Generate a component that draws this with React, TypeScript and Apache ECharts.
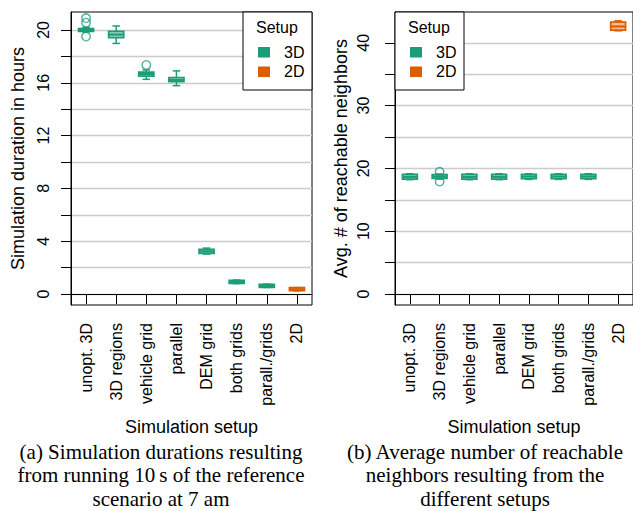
import React, { useEffect, useRef } from "react";
import * as echarts from "echarts";

const categories = ["unopt. 3D", "3D regions", "vehicle grid", "parallel", "DEM grid", "both grids", "parall./grids", "2D"];
const setupOfCategory = ["3D", "3D", "3D", "3D", "3D", "3D", "3D", "2D"];
const setups = ["3D", "2D"];
const setupColors: Record<string, string> = { "3D": "#1b9e77", "2D": "#d95f02" };
const setupFills: Record<string, string> = { "3D": "rgba(27,158,119,0.4)", "2D": "rgba(217,95,2,0.4)" };

// [min, Q1, median, Q3, max] per category
const durationBoxes = [
  [19.85, 19.9, 20.0, 20.1, 20.2],
  [18.98, 19.42, 19.65, 19.9, 20.3],
  [16.26, 16.5, 16.67, 16.8, 16.97],
  [15.78, 16.08, 16.2, 16.39, 16.9],
  [3.03, 3.08, 3.23, 3.38, 3.48],
  [0.79, 0.81, 0.92, 1.04, 1.06],
  [0.5, 0.51, 0.62, 0.73, 0.75],
  [0.24, 0.25, 0.36, 0.48, 0.49],
];
// [category index, value]
const durationOutliers = [[0, 20.9], [0, 20.55], [0, 19.5], [2, 17.35]];

const neighborBoxes = [
  [18.2, 18.3, 18.65, 19.05, 19.15],
  [18.3, 18.4, 18.7, 19.0, 19.1],
  [18.2, 18.3, 18.65, 19.05, 19.15],
  [18.2, 18.3, 18.65, 19.05, 19.15],
  [18.25, 18.35, 18.7, 19.05, 19.15],
  [18.25, 18.35, 18.7, 19.05, 19.15],
  [18.25, 18.35, 18.7, 19.05, 19.15],
  [41.9, 42.0, 42.6, 43.3, 43.5],
];
const neighborOutliers = [[1, 19.45], [1, 17.9]];

const durationTicks = [0, 2, 4, 6, 8, 10, 12, 14, 16, 18, 20];
const durationLabels = [0, 4, 8, 12, 16, 20];
const neighborTicks = [0, 5, 10, 15, 20, 25, 30, 35, 40];
const neighborLabels = [0, 10, 20, 30, 40];

const captionA = "(a) Simulation durations resulting\nfrom running 10\u2009s of the reference\nscenario at 7 am";
const captionB = "(b) Average number of reachable\nneighbors resulting from the\ndifferent setups";

const SANS = "Liberation Sans";
const SERIF = "Liberation Serif";
const FS = 16;
const FS_TITLE = 18;

function renderBox(params: any, api: any) {
  const idx = api.value(0);
  const lo = api.coord([idx, api.value(1)]);
  const q1 = api.coord([idx, api.value(2)]);
  const med = api.coord([idx, api.value(3)]);
  const q3 = api.coord([idx, api.value(4)]);
  const hi = api.coord([idx, api.value(5)]);
  const setup = setupOfCategory[idx];
  const c = setupColors[setup];
  const band = api.size([1, 0])[0];
  const w = band * 0.5;
  const x = med[0];
  const ls = { stroke: c, lineWidth: 1.5 };
  return {
    type: "group",
    children: [
      { type: "line", shape: { x1: x, y1: hi[1], x2: x, y2: q3[1] }, style: ls },
      { type: "line", shape: { x1: x, y1: q1[1], x2: x, y2: lo[1] }, style: ls },
      { type: "line", shape: { x1: x - w / 4, y1: hi[1], x2: x + w / 4, y2: hi[1] }, style: ls },
      { type: "line", shape: { x1: x - w / 4, y1: lo[1], x2: x + w / 4, y2: lo[1] }, style: ls },
      {
        type: "rect",
        shape: { x: x - w / 2, y: q3[1], width: w, height: q1[1] - q3[1] },
        style: { fill: setupFills[setup], stroke: c, lineWidth: 1.7 },
      },
      { type: "line", shape: { x1: x - w / 2, y1: med[1], x2: x + w / 2, y2: med[1] }, style: { stroke: c, lineWidth: 2.2 } },
    ],
  };
}

function legendGraphic(left: number) {
  const Z = 100;
  const children: any[] = [
    { type: "rect", z: Z, shape: { x: left, y: 12, width: 69, height: 78 }, style: { fill: "#fff", stroke: "#000", lineWidth: 1 } },
    { type: "text", z: Z + 1, x: left + 13, y: 27, style: { text: "Setup", fontSize: FS, fontFamily: SANS, fill: "#000", verticalAlign: "middle", align: "left" } },
  ];
  setups.forEach((s, i) => {
    const cy = 52 + i * 19.5;
    children.push({ type: "rect", z: Z + 1, shape: { x: left + 15, y: cy - 5, width: 12, height: 10.5 }, style: { fill: setupColors[s] } });
    children.push({ type: "text", z: Z + 1, x: left + 41, y: cy, style: { text: s, fontSize: FS, fontFamily: SANS, fill: "#000", verticalAlign: "middle", align: "left" } });
  });
  return { type: "group", children, z: Z };
}

export default function App() {
  const ref = useRef<HTMLDivElement>(null);
  useEffect(() => {
    if (!ref.current) return;
    const chart = echarts.init(ref.current, undefined, { renderer: "svg" });
    const yAxisCommon = (ticks: number[], labels: number[], min: number, max: number, name: string, gridIndex: number, labelMargin: number, nameGap: number) => ({
      type: "value",
      gridIndex,
      min,
      max,
      name,
      nameLocation: "middle",
      nameGap,
      nameTextStyle: { fontSize: FS_TITLE, fontFamily: SANS, color: "#000" },
      axisLine: { show: true, lineStyle: { color: "#000", width: 1 } },
      axisTick: { show: true, length: 10, customValues: ticks, lineStyle: { color: "#000" } },
      axisLabel: { customValues: labels, rotate: 90, margin: labelMargin, fontSize: FS, fontFamily: SANS, color: "#000" },
      splitLine: { show: true, lineStyle: { color: "#cccccc", width: 1.3 } },
    });
    const xAxisCommon = (gridIndex: number) => ({
      type: "category",
      gridIndex,
      data: categories,
      name: "Simulation setup",
      nameLocation: "middle",
      nameGap: 113,
      nameTextStyle: { fontSize: FS_TITLE, fontFamily: SANS, color: "#000", verticalAlign: "top" },
      axisLine: { show: true, lineStyle: { color: "#000", width: 1 } },
      axisTick: { show: true, length: 10, alignWithLabel: true, lineStyle: { color: "#000" } },
      axisLabel: { interval: 0, rotate: 90, margin: 18, fontSize: FS, fontFamily: SANS, color: "#000" },
      splitLine: { show: false },
    });
    const toData = (boxes: number[][]) => boxes.map((b, i) => [i, ...b]);
    chart.setOption({
      animation: false,
      backgroundColor: "#fff",
      textStyle: { fontFamily: SANS },
      grid: [
        { left: 71, top: 12, width: 241, height: 293, show: true, borderColor: "#000", borderWidth: 1 },
        { left: 395, top: 12, width: 241, height: 293, show: true, borderColor: "#000", borderWidth: 1 },
      ],
      xAxis: [xAxisCommon(0), xAxisCommon(1)],
      yAxis: [
        yAxisCommon(durationTicks, durationLabels, -0.83, 21.36, "Simulation duration in hours", 0, 19.5, 44),
        yAxisCommon(neighborTicks, neighborLabels, -1.75, 44.9, "Avg. # of reachable neighbors", 1, 23.5, 45),
      ],
      series: [
        { type: "custom", xAxisIndex: 0, yAxisIndex: 0, renderItem: renderBox, encode: { x: 0, y: [1, 2, 3, 4, 5] }, data: toData(durationBoxes) },
        { type: "custom", xAxisIndex: 1, yAxisIndex: 1, renderItem: renderBox, encode: { x: 0, y: [1, 2, 3, 4, 5] }, data: toData(neighborBoxes) },
        {
          type: "scatter", xAxisIndex: 0, yAxisIndex: 0, symbol: "circle", symbolSize: 8.5, clip: false,
          itemStyle: { color: "rgba(0,0,0,0)", borderColor: setupColors["3D"], borderWidth: 1.4 },
          data: durationOutliers,
        },
        {
          type: "scatter", xAxisIndex: 1, yAxisIndex: 1, symbol: "circle", symbolSize: 8.5, clip: false,
          itemStyle: { color: "rgba(0,0,0,0)", borderColor: setupColors["3D"], borderWidth: 1.4 },
          data: neighborOutliers,
        },
      ],
      graphic: [
        legendGraphic(243),
        legendGraphic(395),
        { type: "text", x: 161, y: 440, style: { text: captionA, fontSize: 21, fontFamily: SERIF, fill: "#000", align: "center", verticalAlign: "top", lineHeight: 23.5 } },
        { type: "text", x: 485, y: 440, style: { text: captionB, fontSize: 21, fontFamily: SERIF, fill: "#000", align: "center", verticalAlign: "top", lineHeight: 23.5 } },
      ],
    });
    return () => chart.dispose();
  }, []);
  return <div ref={ref} style={{ position: "absolute", left: 0, top: 0, width: 633, height: 511, background: "#fff" }} />;
}
